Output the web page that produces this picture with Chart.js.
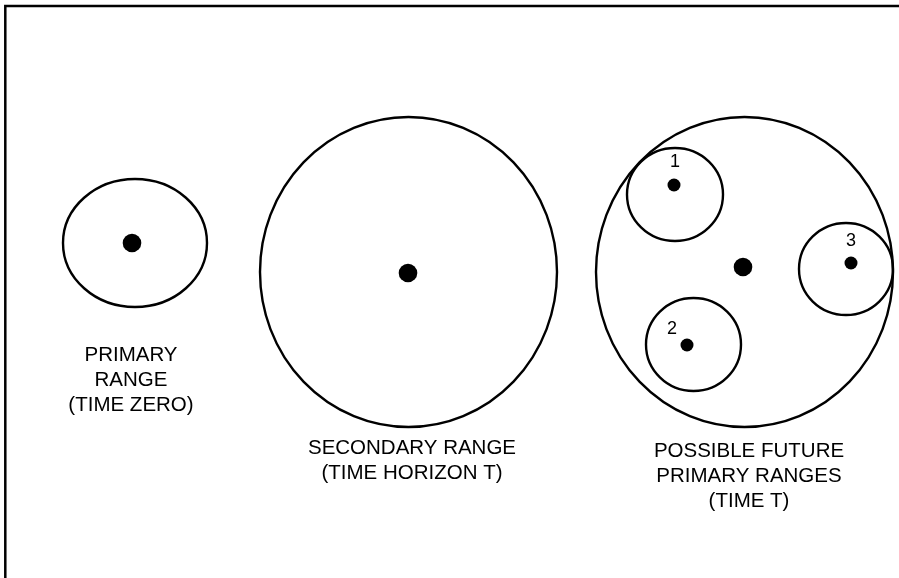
<!DOCTYPE html>
<html lang="en">
<head>
    <meta charset="UTF-8">
    <title>Primary and secondary ranges</title>
    <style>
        html, body { margin: 0; padding: 0; background: #fff; }
        #wrap { width: 899px; height: 578px; }
    </style>
</head>
<body>
    <div id="wrap"><canvas id="rangeChart" width="899" height="578"></canvas></div>

    <script src="https://cdn.jsdelivr.net/npm/chart.js@4.4.1/dist/chart.umd.min.js"></script>
    <script>
        // diagram units: the axes run 0..899 across and 0..578 down
        const ranges = ['primary', 'secondary', 'future', 'future 1', 'future 2', 'future 3'];
        const rangeX  = [135, 408.5, 744.5, 675, 693.5, 846];
        const rangeY  = [243, 272, 272, 194.5, 344.5, 269];
        const rangeRx = [72, 148.5, 148.5, 48, 47.5, 47];
        const rangeRy = [64, 155, 155, 46.5, 46.5, 46];

        // the centre point of each range
        const centerX = [132, 408, 743, 674, 687, 851];
        const centerY = [243, 273, 267, 185, 345, 263];

        // numbers for the possible future ranges
        const futureNums = ['1', '2', '3'];
        const futureNumX = [675, 672, 851];
        const futureNumY = [162, 329, 241];

        // captions under each big range
        const captions = [
            ['PRIMARY', 'RANGE', '(TIME ZERO)'],
            ['SECONDARY RANGE', '(TIME HORIZON T)'],
            ['POSSIBLE FUTURE', 'PRIMARY RANGES', '(TIME T)']
        ];
        const captionX = [131, 412, 749];
        const captionY = [361, 454, 457];

        const FONT = '"Liberation Sans", Arial, Helvetica, sans-serif';

        // draws the range outlines, frame and texts using the chart scales
        const diagramPlugin = {
            id: 'diagram',
            beforeDatasetsDraw(chart) {
                const ctx = chart.ctx;
                const xs = chart.scales.x, ys = chart.scales.y;
                ctx.save();
                // frame (right and bottom edges fall outside the picture)
                ctx.strokeStyle = '#000';
                ctx.lineWidth = 2.5;
                ctx.strokeRect(xs.getPixelForValue(5.3), ys.getPixelForValue(6), 1000, 1000);

                ctx.lineWidth = 2.4;
                ranges.forEach((r, i) => {
                    const cx = xs.getPixelForValue(rangeX[i]);
                    const cy = ys.getPixelForValue(rangeY[i]);
                    const rx = Math.abs(xs.getPixelForValue(rangeX[i] + rangeRx[i]) - cx);
                    const ry = Math.abs(ys.getPixelForValue(rangeY[i] + rangeRy[i]) - cy);
                    ctx.beginPath();
                    ctx.ellipse(cx, cy, rx, ry, 0, 0, Math.PI * 2);
                    ctx.stroke();
                });

                ctx.fillStyle = '#000';
                ctx.textAlign = 'center';
                ctx.textBaseline = 'middle';
                ctx.font = '18px ' + FONT;
                futureNums.forEach((n, i) => {
                    ctx.fillText(n, xs.getPixelForValue(futureNumX[i]), ys.getPixelForValue(futureNumY[i]));
                });

                ctx.textBaseline = 'alphabetic';
                ctx.font = '20.5px ' + FONT;
                captions.forEach((lines, i) => {
                    lines.forEach((line, j) => {
                        ctx.fillText(line, xs.getPixelForValue(captionX[i]), ys.getPixelForValue(captionY[i] + j * 25));
                    });
                });
                ctx.restore();
            }
        };

        const ctx = document.getElementById('rangeChart');
        const rangeChart = new Chart(ctx, {
            type: 'scatter',
            data: {
                datasets: [{
                    label: 'Range centre',
                    data: centerX.map((x, i) => ({ x: x, y: centerY[i] })),
                    backgroundColor: '#000',
                    borderColor: '#000',
                    borderWidth: 0,
                    pointRadius: (c) => c.dataIndex < 3 ? 9.3 : 6.5,
                    pointHoverRadius: (c) => c.dataIndex < 3 ? 9.3 : 6.5
                }]
            },
            options: {
                responsive: false,
                animation: false,
                devicePixelRatio: 1,
                layout: { padding: 0, autoPadding: false },
                plugins: {
                    legend: { display: false },
                    tooltip: { enabled: false }
                },
                scales: {
                    x: { type: 'linear', min: 0, max: 899, display: false },
                    y: { type: 'linear', min: 0, max: 578, reverse: true, display: false }
                }
            },
            plugins: [diagramPlugin]
        });
    </script>
</body>
</html>
